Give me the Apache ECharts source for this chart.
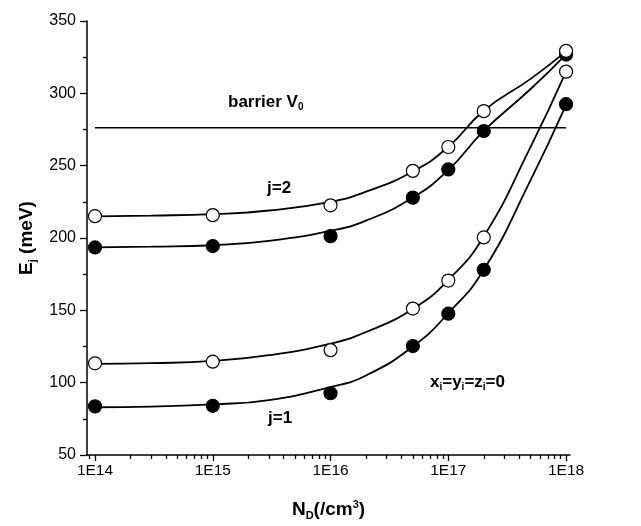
<!DOCTYPE html>
<html>
<head>
<meta charset="utf-8">
<script src="https://cdn.jsdelivr.net/npm/echarts@6/dist/echarts.min.js"></script>
<style>
html,body{margin:0;padding:0;background:#fff;}
#c{width:641px;height:526px;}
</style>
</head>
<body>
<div id="c"></div>
<script>
// ---- data ----
var xValues = [1e14, 1e15, 1e16, 5e16, 1e17, 2e17, 1e18];
var j2Open   = [215.1, 215.8, 222.6, 246.4, 262.9, 287.7, 329.4];
var j2Filled = [193.5, 194.4, 201.3, 227.9, 247.4, 273.9, 326.8];
var j1Open   = [113.4, 114.5, 122.5, 151.2, 170.6, 200.4, 315.0];
var j1Filled = [83.6, 84.0, 92.7, 125.3, 147.7, 178.0, 292.5];
// fitted curves
var fitX        = [1e14, 3e14, 1e15, 3e15, 1e16, 2e16, 5e16, 1e17, 2e17, 5e17, 1e18];
var fitJ2Open   = [215.0, 215.5, 216.5, 219.0, 225.0, 232.0, 246.0, 263.0, 288.0, 310.0, 329.0];
var fitJ2Filled = [193.5, 194.0, 195.0, 198.0, 205.0, 212.0, 228.0, 247.0, 274.0, 303.0, 327.0];
var fitJ1Open   = [113.0, 113.5, 115.0, 119.0, 127.0, 135.0, 151.0, 171.0, 201.0, 263.0, 315.0];
var fitJ1Filled = [83.0, 83.5, 85.0, 88.0, 97.0, 105.0, 125.0, 148.0, 178.0, 240.0, 292.0];
var barrierX = [1e14, 1e18];
var barrierY = 276.2;
var xMajorTicks = [1e14, 1e15, 1e16, 1e17, 1e18];
var xMinorTicks = [9e13,
  2e14,3e14,4e14,5e14,6e14,7e14,8e14,9e14,
  2e15,3e15,4e15,5e15,6e15,7e15,8e15,9e15,
  2e16,3e16,4e16,5e16,6e16,7e16,8e16,9e16,
  2e17,3e17,4e17,5e17,6e17,7e17,8e17,9e17];
var xMin = 8.55e13, xMax = 1.08e18;
var yMin = 50, yMax = 350, yStep = 50;

function pairs(xs, ys){ return xs.map(function(x,i){ return [x, ys[i]]; }); }

var FONT = '"Liberation Sans", Arial, sans-serif';
var chart = echarts.init(document.getElementById('c'), null, {renderer:'canvas'});

var lineStyle = {color:'#000', width:1.8};
function fitSeries(ys){
  return {type:'line', xAxisIndex:0, data:pairs(fitX, ys), smooth:0.5,
    showSymbol:false, symbol:'none', lineStyle:lineStyle, silent:true, z:2};
}
function ptSeries(ys, open){
  return {type:'scatter', xAxisIndex:0, data:pairs(xValues, ys), symbol:'circle', symbolSize:13,
    itemStyle:{color: open ? '#fff' : '#000', borderColor:'#000', borderWidth:1.2, opacity:1},
    z: open ? 4 : 3, silent:true};
}
var annA = {fontFamily:FONT, fontWeight:'bold', fontSize:17, fill:'#000', lineHeight:20};
var annS = {fontFamily:FONT, fontWeight:'bold', fontSize:10, fill:'#000', lineHeight:4, verticalAlign:'bottom'};

chart.setOption({
  animation:false,
  backgroundColor:'#fff',
  grid:{left:87, right:71, top:21, bottom:68, containLabel:false},
  xAxis:[{
    type:'log', logBase:10, min:xMin, max:xMax,
    name:'{a|N}{s|D}{a|(/cm}{p|3}{a|)}', nameLocation:'middle', nameGap:44,
    nameTextStyle:{rich:{
      a:{fontFamily:FONT, fontWeight:'bold', fontSize:19, color:'#000', lineHeight:22},
      s:{fontFamily:FONT, fontWeight:'bold', fontSize:11, color:'#000', lineHeight:4, verticalAlign:'bottom'},
      p:{fontFamily:FONT, fontWeight:'bold', fontSize:11, color:'#000', lineHeight:22, verticalAlign:'top'}
    }},
    axisLine:{show:true, onZero:false, lineStyle:{color:'#000', width:1.5}},
    axisTick:{show:true, customValues:xMajorTicks, length:6, lineStyle:{color:'#000', width:1.3}},
    axisLabel:{show:true, customValues:xMajorTicks, fontFamily:FONT, fontSize:15.5, color:'#000', margin:8,
      formatter:function(v){ return '1E' + Math.round(Math.log10(v)); }},
    splitLine:{show:false}, minorTick:{show:false}, minorSplitLine:{show:false}
  },{
    type:'log', logBase:10, min:xMin, max:xMax, position:'bottom',
    axisLine:{show:false, onZero:false},
    axisTick:{show:true, customValues:xMinorTicks, length:4, lineStyle:{color:'#000', width:1.3}},
    axisLabel:{show:false}, splitLine:{show:false}
  }],
  yAxis:{
    type:'value', min:yMin, max:yMax, interval:yStep,
    name:'{a|E}{s|j}{a| (meV)}', nameLocation:'middle', nameGap:49, nameRotate:90,
    nameTextStyle:{rich:{
      a:{fontFamily:FONT, fontWeight:'bold', fontSize:19, color:'#000', lineHeight:22},
      s:{fontFamily:FONT, fontWeight:'bold', fontSize:11, color:'#000', lineHeight:4, verticalAlign:'bottom'}
    }},
    axisLine:{show:true, onZero:false, lineStyle:{color:'#000', width:1.5}},
    axisTick:{show:true, length:7, lineStyle:{color:'#000', width:1.3}},
    minorTick:{show:true, splitNumber:2, length:4, lineStyle:{color:'#000', width:1.3}},
    axisLabel:{fontFamily:FONT, fontSize:16, color:'#000', margin:11},
    splitLine:{show:false}
  },
  series:[
    {type:'line', xAxisIndex:0, data:pairs(barrierX, [barrierY, barrierY]), showSymbol:false, symbol:'none',
      lineStyle:{color:'#000', width:1.5}, silent:true, z:1},
    fitSeries(fitJ2Open), fitSeries(fitJ2Filled), fitSeries(fitJ1Open), fitSeries(fitJ1Filled),
    ptSeries(j2Filled, false), ptSeries(j1Filled, false),
    ptSeries(j2Open, true), ptSeries(j1Open, true)
  ],
  graphic:[
    {type:'text', left:228, top:94, style:{rich:{a:annA, s:annS}, text:'{a|barrier V}{s|0}'}},
    {type:'text', left:267, top:180, style:{rich:{a:annA}, text:'{a|j=2}'}},
    {type:'text', left:268, top:410, style:{rich:{a:annA}, text:'{a|j=1}'}},
    {type:'text', left:430, top:374, style:{rich:{a:annA, s:annS}, text:'{a|x}{s|i}{a|=y}{s|i}{a|=z}{s|i}{a|=0}'}}
  ]
});
</script>
</body>
</html>
